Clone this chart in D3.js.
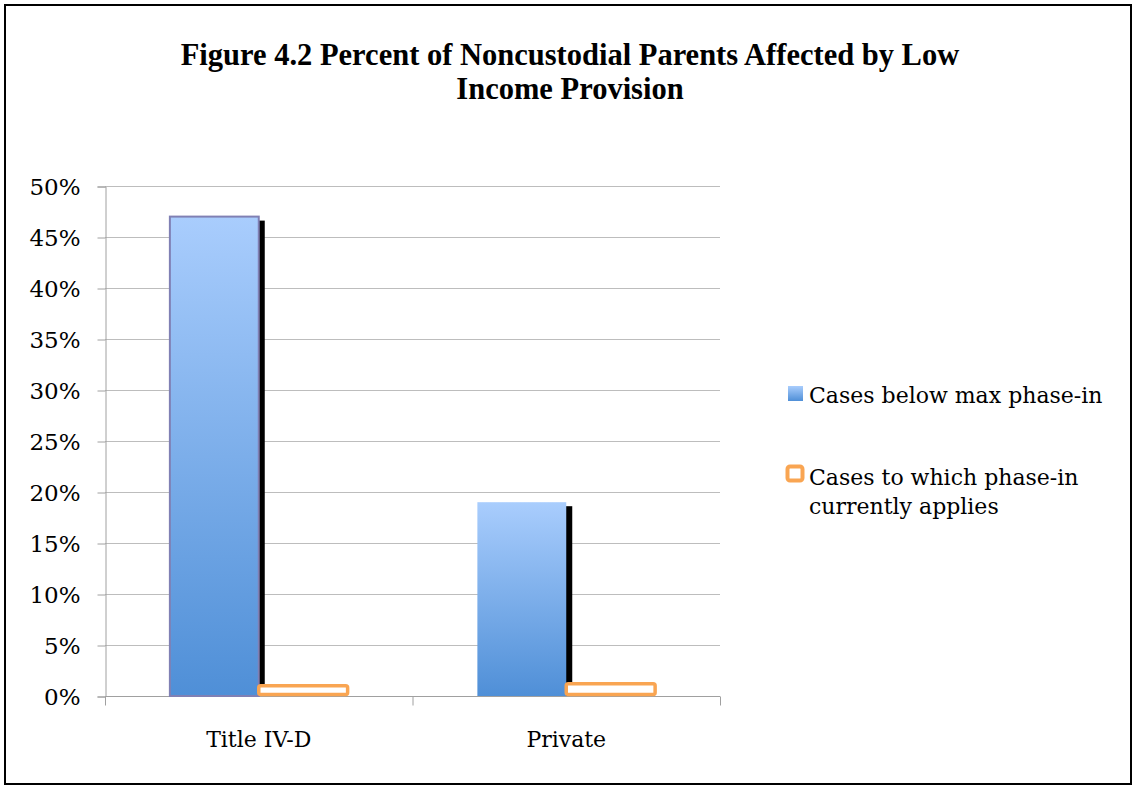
<!DOCTYPE html>
<html>
<head>
<meta charset="utf-8">
<script src="https://cdn.jsdelivr.net/npm/d3@7/dist/d3.min.js"></script>
<style>
  html, body { margin: 0; padding: 0; background: #fff; }
  svg { display: block; }
</style>
</head>
<body>
<svg id="chart" width="1136" height="786"></svg>
<script>
// Chart data
const categories = ["Title IV-D", "Private"];
const seriesNames = ["Cases below max phase-in", "Cases to which phase-in currently applies"];
const belowMax = [47, 19];
const phaseInApplies = [1.0, 1.2];
const yTicks = [0, 5, 10, 15, 20, 25, 30, 35, 40, 45, 50];
const titleLines = ["Figure 4.2 Percent of Noncustodial Parents Affected by Low", "Income Provision"];
const legendLines2 = ["Cases to which phase-in", "currently applies"];

const svg = d3.select("#chart");
const W = 1136, H = 786;
const serif = "'DejaVu Serif', serif";

// Frame
svg.append("rect")
  .attr("x", 5).attr("y", 5).attr("width", W - 10).attr("height", H - 7)
  .attr("fill", "#fff").attr("stroke", "#000").attr("stroke-width", 2);

// Title, one text element per line
svg.append("g")
  .selectAll("text").data(titleLines).join("text")
  .attr("text-anchor", "middle")
  .attr("font-family", "'Liberation Serif', 'Times New Roman', serif")
  .attr("font-weight", "bold")
  .attr("font-size", 30.5)
  .attr("x", 570).attr("y", (d, i) => 65 + i * 34)
  .text(d => d);

// Plot area
const plot = { left: 105, right: 720, top: 186, bottom: 696 };

const x0 = d3.scaleBand().domain(categories).range([plot.left, plot.right]).paddingInner(0).paddingOuter(0);
const x1 = d3.scaleBand().domain([0, 1]).range([0, x0.bandwidth()]).paddingInner(0).paddingOuter(0.73);
const y = d3.scaleLinear().domain([0, 50]).range([plot.bottom, plot.top]);

// Gradients for the first series
const defs = svg.append("defs");
["blueGrad", "legGrad"].forEach(id => {
  const g = defs.append("linearGradient").attr("id", id)
    .attr("x1", 0).attr("y1", 0).attr("x2", 0).attr("y2", 1);
  g.append("stop").attr("offset", "0%").attr("stop-color", "#a9cdfd");
  g.append("stop").attr("offset", "100%").attr("stop-color", "#4f8fd7");
});

// Gridlines
svg.append("g")
  .selectAll("line").data(yTicks.filter(t => t > 0)).join("line")
  .attr("x1", plot.left).attr("x2", plot.right)
  .attr("y1", d => y(d) + 0.5).attr("y2", d => y(d) + 0.5)
  .attr("stroke", "#bdbdbd").attr("stroke-width", 1);

// Y axis
const yAxis = d3.axisLeft(y).tickValues(yTicks).tickFormat(d => d + "%").tickSize(8).tickPadding(17);
const gy = svg.append("g").attr("transform", `translate(${plot.left + 0.5},0.5)`).call(yAxis);
gy.select(".domain").attr("stroke", "#a0a0a0");
gy.selectAll(".tick line").attr("stroke", "#a0a0a0");
gy.selectAll(".tick text").attr("font-family", serif).attr("font-size", 23).attr("fill", "#000").attr("dy", "0.35em");

// X axis
const xAxis = d3.axisBottom(x0).tickSize(0).tickPadding(35);
const gx = svg.append("g").attr("transform", `translate(0,${plot.bottom + 0.5})`).call(xAxis);
gx.select(".domain").attr("stroke", "#a0a0a0").attr("d", `M${plot.left},0H${plot.right}`);
gx.selectAll(".tick text").attr("font-family", serif).attr("font-size", 22).attr("fill", "#000");
// category separators
gx.append("g").selectAll("line").data([plot.left, x0("Private"), plot.right]).join("line")
  .attr("x1", d => d + 0.5).attr("x2", d => d + 0.5).attr("y1", 0).attr("y2", 9)
  .attr("stroke", "#a0a0a0");

// Series 1 shadow
const bars = svg.append("g");
bars.selectAll("rect.shadow").data(belowMax).join("rect")
  .attr("class", "shadow")
  .attr("x", (d, i) => x0(categories[i]) + x1(0) + 6)
  .attr("y", d => y(d) + 4)
  .attr("width", x1.bandwidth())
  .attr("height", d => plot.bottom - y(d) - 4)
  .attr("fill", "#000");

// Series 1 bars
bars.selectAll("rect.s1").data(belowMax).join("rect")
  .attr("class", "s1")
  .attr("x", (d, i) => x0(categories[i]) + x1(0))
  .attr("y", d => y(d))
  .attr("width", x1.bandwidth())
  .attr("height", d => plot.bottom - y(d))
  .attr("fill", "url(#blueGrad)")
  .attr("stroke", (d, i) => i === 0 ? "#8080b4" : "none")
  .attr("stroke-width", 2);

// Series 2 bars (outlined)
bars.selectAll("rect.s2").data(phaseInApplies).join("rect")
  .attr("class", "s2")
  .attr("x", (d, i) => x0(categories[i]) + x1(1))
  .attr("y", d => y(d))
  .attr("width", x1.bandwidth())
  .attr("height", d => plot.bottom - y(d) - 1.5)
  .attr("rx", 2)
  .attr("fill", "#fff")
  .attr("stroke", "#f9a552")
  .attr("stroke-width", 3.5);

// Legend
const leg = svg.append("g");
leg.append("rect").attr("x", 788).attr("y", 386).attr("width", 15).attr("height", 15)
  .attr("fill", "url(#legGrad)");
leg.append("text").attr("x", 809).attr("y", 403)
  .attr("font-family", serif).attr("font-size", 22).attr("fill", "#000")
  .text(seriesNames[0]);

leg.append("rect").attr("x", 787.5).attr("y", 466.5).attr("width", 15).attr("height", 14)
  .attr("rx", 2.5)
  .attr("fill", "#fff").attr("stroke", "#f9a552").attr("stroke-width", 4);
leg.append("text")
  .attr("font-family", serif).attr("font-size", 22).attr("fill", "#000")
  .selectAll("tspan").data(legendLines2).join("tspan")
  .attr("x", 809).attr("y", (d, i) => 485 + i * 29)
  .text(d => d);
</script>
</body>
</html>
